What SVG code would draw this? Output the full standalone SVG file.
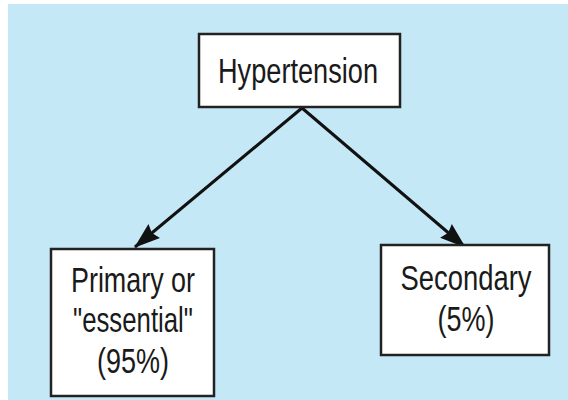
<svg xmlns="http://www.w3.org/2000/svg" width="568" height="400" viewBox="0 0 568 400">
  <defs>
    <style>
      .box { fill: #ffffff; stroke: #222222; stroke-width: 2.5; }
      .lbl { font-family: "Liberation Sans", Arial, sans-serif; font-size: 35px; fill: #1a1a1a; text-anchor: middle; }
      .edge { stroke: #111111; stroke-width: 3; fill: none; marker-end: url(#arrow); }
    </style>
    <marker id="arrow" markerUnits="userSpaceOnUse" markerWidth="26" markerHeight="20" refX="25" refY="10" orient="auto">
      <path d="M0,1 L26,10 L0,19 L3,10 z" fill="#111111"/>
    </marker>
  </defs>
  <rect x="0" y="0" width="568" height="400" fill="#ffffff"/>
  <rect x="8" y="4" width="560" height="396" fill="#c5e8f7"/>
  <g id="connectors">
    <line class="edge" x1="302" y1="108" x2="135" y2="247"/>
    <line class="edge" x1="302" y1="108" x2="465" y2="247"/>
  </g>
  <g id="hypertension">
    <rect class="box" x="199" y="34" width="201" height="73"/>
    <text class="lbl" x="298" y="83" textLength="160" lengthAdjust="spacingAndGlyphs">Hypertension</text>
  </g>
  <g id="primary">
    <rect class="box" x="51" y="249" width="163" height="147"/>
    <text class="lbl" x="133" y="292" textLength="124" lengthAdjust="spacingAndGlyphs">Primary or</text>
    <text class="lbl" x="133" y="332" textLength="120" lengthAdjust="spacingAndGlyphs">"essential"</text>
    <text class="lbl" x="133" y="373" textLength="72" lengthAdjust="spacingAndGlyphs">(95%)</text>
  </g>
  <g id="secondary">
    <rect class="box" x="381" y="245" width="168" height="110"/>
    <text class="lbl" x="466" y="290" textLength="131" lengthAdjust="spacingAndGlyphs">Secondary</text>
    <text class="lbl" x="466" y="331" textLength="57" lengthAdjust="spacingAndGlyphs">(5%)</text>
  </g>
</svg>
